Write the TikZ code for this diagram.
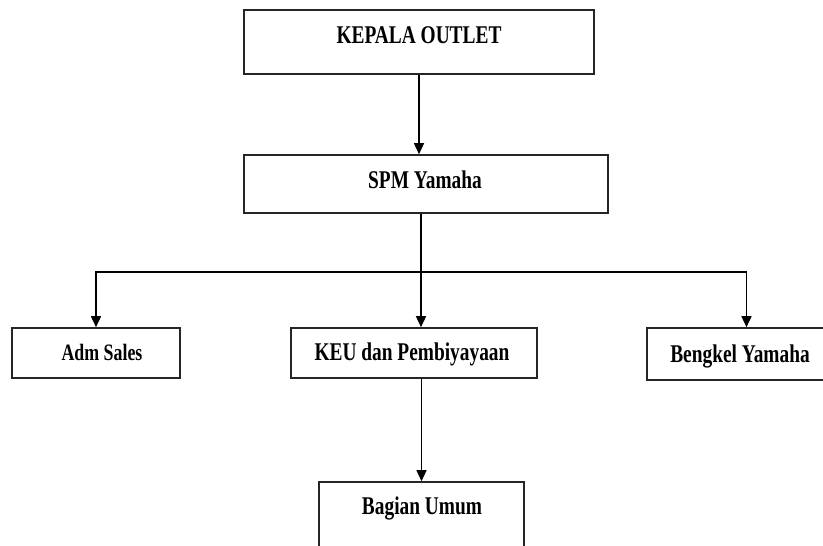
\documentclass[tikz,border=0pt]{standalone}
\usepackage{fontspec}
\setmainfont{Liberation Serif}
\newfontfamily\condfont[FakeStretch=0.76]{Liberation Serif}
\usetikzlibrary{arrows.meta}
\tikzset{
  box/.style={draw=black!85, line width=1.6pt, inner sep=0pt, rectangle},
  lbl/.style={anchor=base, inner sep=0pt, font=\condfont\bfseries\fontsize{25.5}{28}\selectfont},
  conn/.style={draw=black, line width=1.5pt},
  arr/.style={conn, -{Triangle[width=10pt,length=11pt]}}
}
\begin{document}
\begin{tikzpicture}[x=1pt,y=-1pt]
\useasboundingbox (0,0) rectangle (823,546);
\clip (0,0) rectangle (823,546);
% boxes
\node[box, minimum width=350pt, minimum height=64pt] (kepala) at (419,42) {};
\node[box, minimum width=364pt, minimum height=58pt] (spm) at (426,184) {};
\node[box, minimum width=168pt, minimum height=50pt] (adm) at (96,353) {};
\node[box, minimum width=246pt, minimum height=50pt] (keu) at (414,353) {};
\node[box, minimum width=193pt, minimum height=52pt] (bengkel) at (743.5,354) {};
\node[box, minimum width=205pt, minimum height=78pt] (umum) at (421.5,521) {};
% labels
\node[lbl] (kepalaT) at (419,43) {KEPALA OUTLET};
\node[lbl] (spmT) at (425,188) {SPM Yamaha};
\node[lbl, font=\condfont\bfseries\fontsize{23.5}{26}\selectfont] (admT) at (102,360) {Adm Sales};
\node[lbl] (keuT) at (412,360) {KEU dan Pembiyayaan};
\node[lbl] (bengkelT) at (740,362) {Bengkel Yamaha};
\node[lbl] (umumT) at (422,514) {Bagian Umum};
% connectors
\coordinate (j) at (421,272);
\draw[arr] (kepala.south) -- (kepala.south |- spm.north);
\draw[conn] (spm.south -| j) -- (j);
\draw[arr] (j) -- (keu.north -| j);
\draw[arr] (j) -| (adm.north);
\draw[arr] (j) -| ([xshift=3pt]bengkel.north);
\draw[arr] (umum.north |- keu.south) -- (umum.north);
\end{tikzpicture}
\end{document}
